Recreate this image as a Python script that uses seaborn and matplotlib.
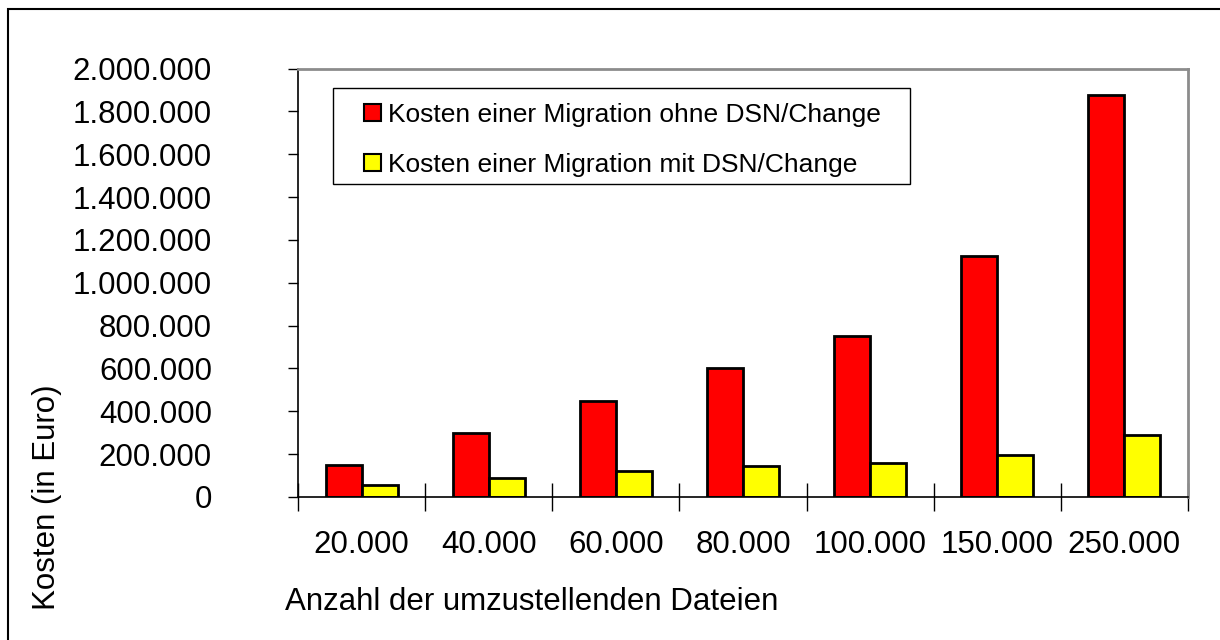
import seaborn as sns
import matplotlib.pyplot as plt
import pandas as pd
from matplotlib.patches import Patch, Rectangle

categories = ["20.000", "40.000", "60.000", "80.000", "100.000", "150.000", "250.000"]
series_names = ["Kosten einer Migration ohne DSN/Change", "Kosten einer Migration mit DSN/Change"]
kosten_ohne = [150000, 300000, 450000, 600000, 750000, 1125000, 1875000]
kosten_mit = [55000, 88000, 120000, 144000, 158000, 195000, 288000]
y_ticks = [0, 200000, 400000, 600000, 800000, 1000000, 1200000, 1400000, 1600000, 1800000, 2000000]
y_ticklabels = [f"{v:,}".replace(",", ".") for v in y_ticks]
colors = ["#ff0000", "#ffff00"]

df = pd.DataFrame({
    "Dateien": categories * 2,
    "Kosten": kosten_ohne + kosten_mit,
    "Serie": [series_names[0]] * len(categories) + [series_names[1]] * len(categories),
})

sns.set_theme(style="white")
plt.rcParams['font.family'] = ['Liberation Sans', 'DejaVu Sans']
plt.rcParams.update({"text.color": "black", "axes.labelcolor": "black",
                     "xtick.color": "black", "ytick.color": "black"})

fig = plt.figure(figsize=(12.2, 6.4), dpi=100)
ax = fig.add_axes([298/1220, 1 - 497/640, 890/1220, 428.5/640])

sns.barplot(data=df, x="Dateien", y="Kosten", hue="Serie", palette=colors,
            width=0.567, edgecolor="black", linewidth=2, saturation=1,
            legend=False, ax=ax)

ax.set_xlim(-0.5, len(categories) - 0.5)
ax.set_ylim(0, 2000000)
ax.set_yticks(y_ticks)
ax.set_yticklabels(y_ticklabels)
ax.set_xlabel("")
ax.set_ylabel("")

# ticks: y outward, x crossing at group borders
ax.tick_params(axis="y", direction="out", length=7, width=1, color="black",
               labelsize=22.5, pad=55, left=True)
ax.tick_params(axis="x", which="major", length=0, labelsize=22.5, pad=24, bottom=True)
ax.set_xticks([i - 0.5 for i in range(len(categories) + 1)], minor=True)
ax.tick_params(axis="x", which="minor", direction="inout", length=20, width=1,
               color="black", bottom=True)

for s in ["left", "bottom"]:
    ax.spines[s].set_color("black")
    ax.spines[s].set_linewidth(1.2)
for s in ["top", "right"]:
    ax.spines[s].set_color("#8c8c8c")
    ax.spines[s].set_linewidth(2)

# legend
handles = [Patch(facecolor=c, edgecolor="black", linewidth=1.5) for c in colors]
ax.legend(handles, series_names, loc="upper left", bbox_to_anchor=(0.0742, 0.92),
          frameon=False, fontsize=19, borderpad=0, borderaxespad=0,
          handlelength=0.64, handleheight=0.64, handletextpad=0.27, labelspacing=0.98)
ax.add_patch(Rectangle((35/890, (497-184)/428.5), 577/890, 96/428.5, transform=ax.transAxes,
                       fill=False, edgecolor="black", linewidth=1, clip_on=False, zorder=5))

fig.text(285/1220, 1 - 602/640, "Anzahl der umzustellenden Dateien", fontsize=22.5,
         ha="left", va="center")
fig.text(47/1220, 1 - 497/640, "Kosten (in Euro)", fontsize=22.5, rotation=90,
         ha="center", va="center")

# outer frame (right and bottom edges fall outside the picture)
fig.patches.append(Rectangle((8/1220, -0.2), 1.2, 1.2 - 8.5/640, transform=fig.transFigure,
                             fill=False, edgecolor="black", linewidth=1.5))

fig.savefig("out.png", dpi=100, facecolor="white")
